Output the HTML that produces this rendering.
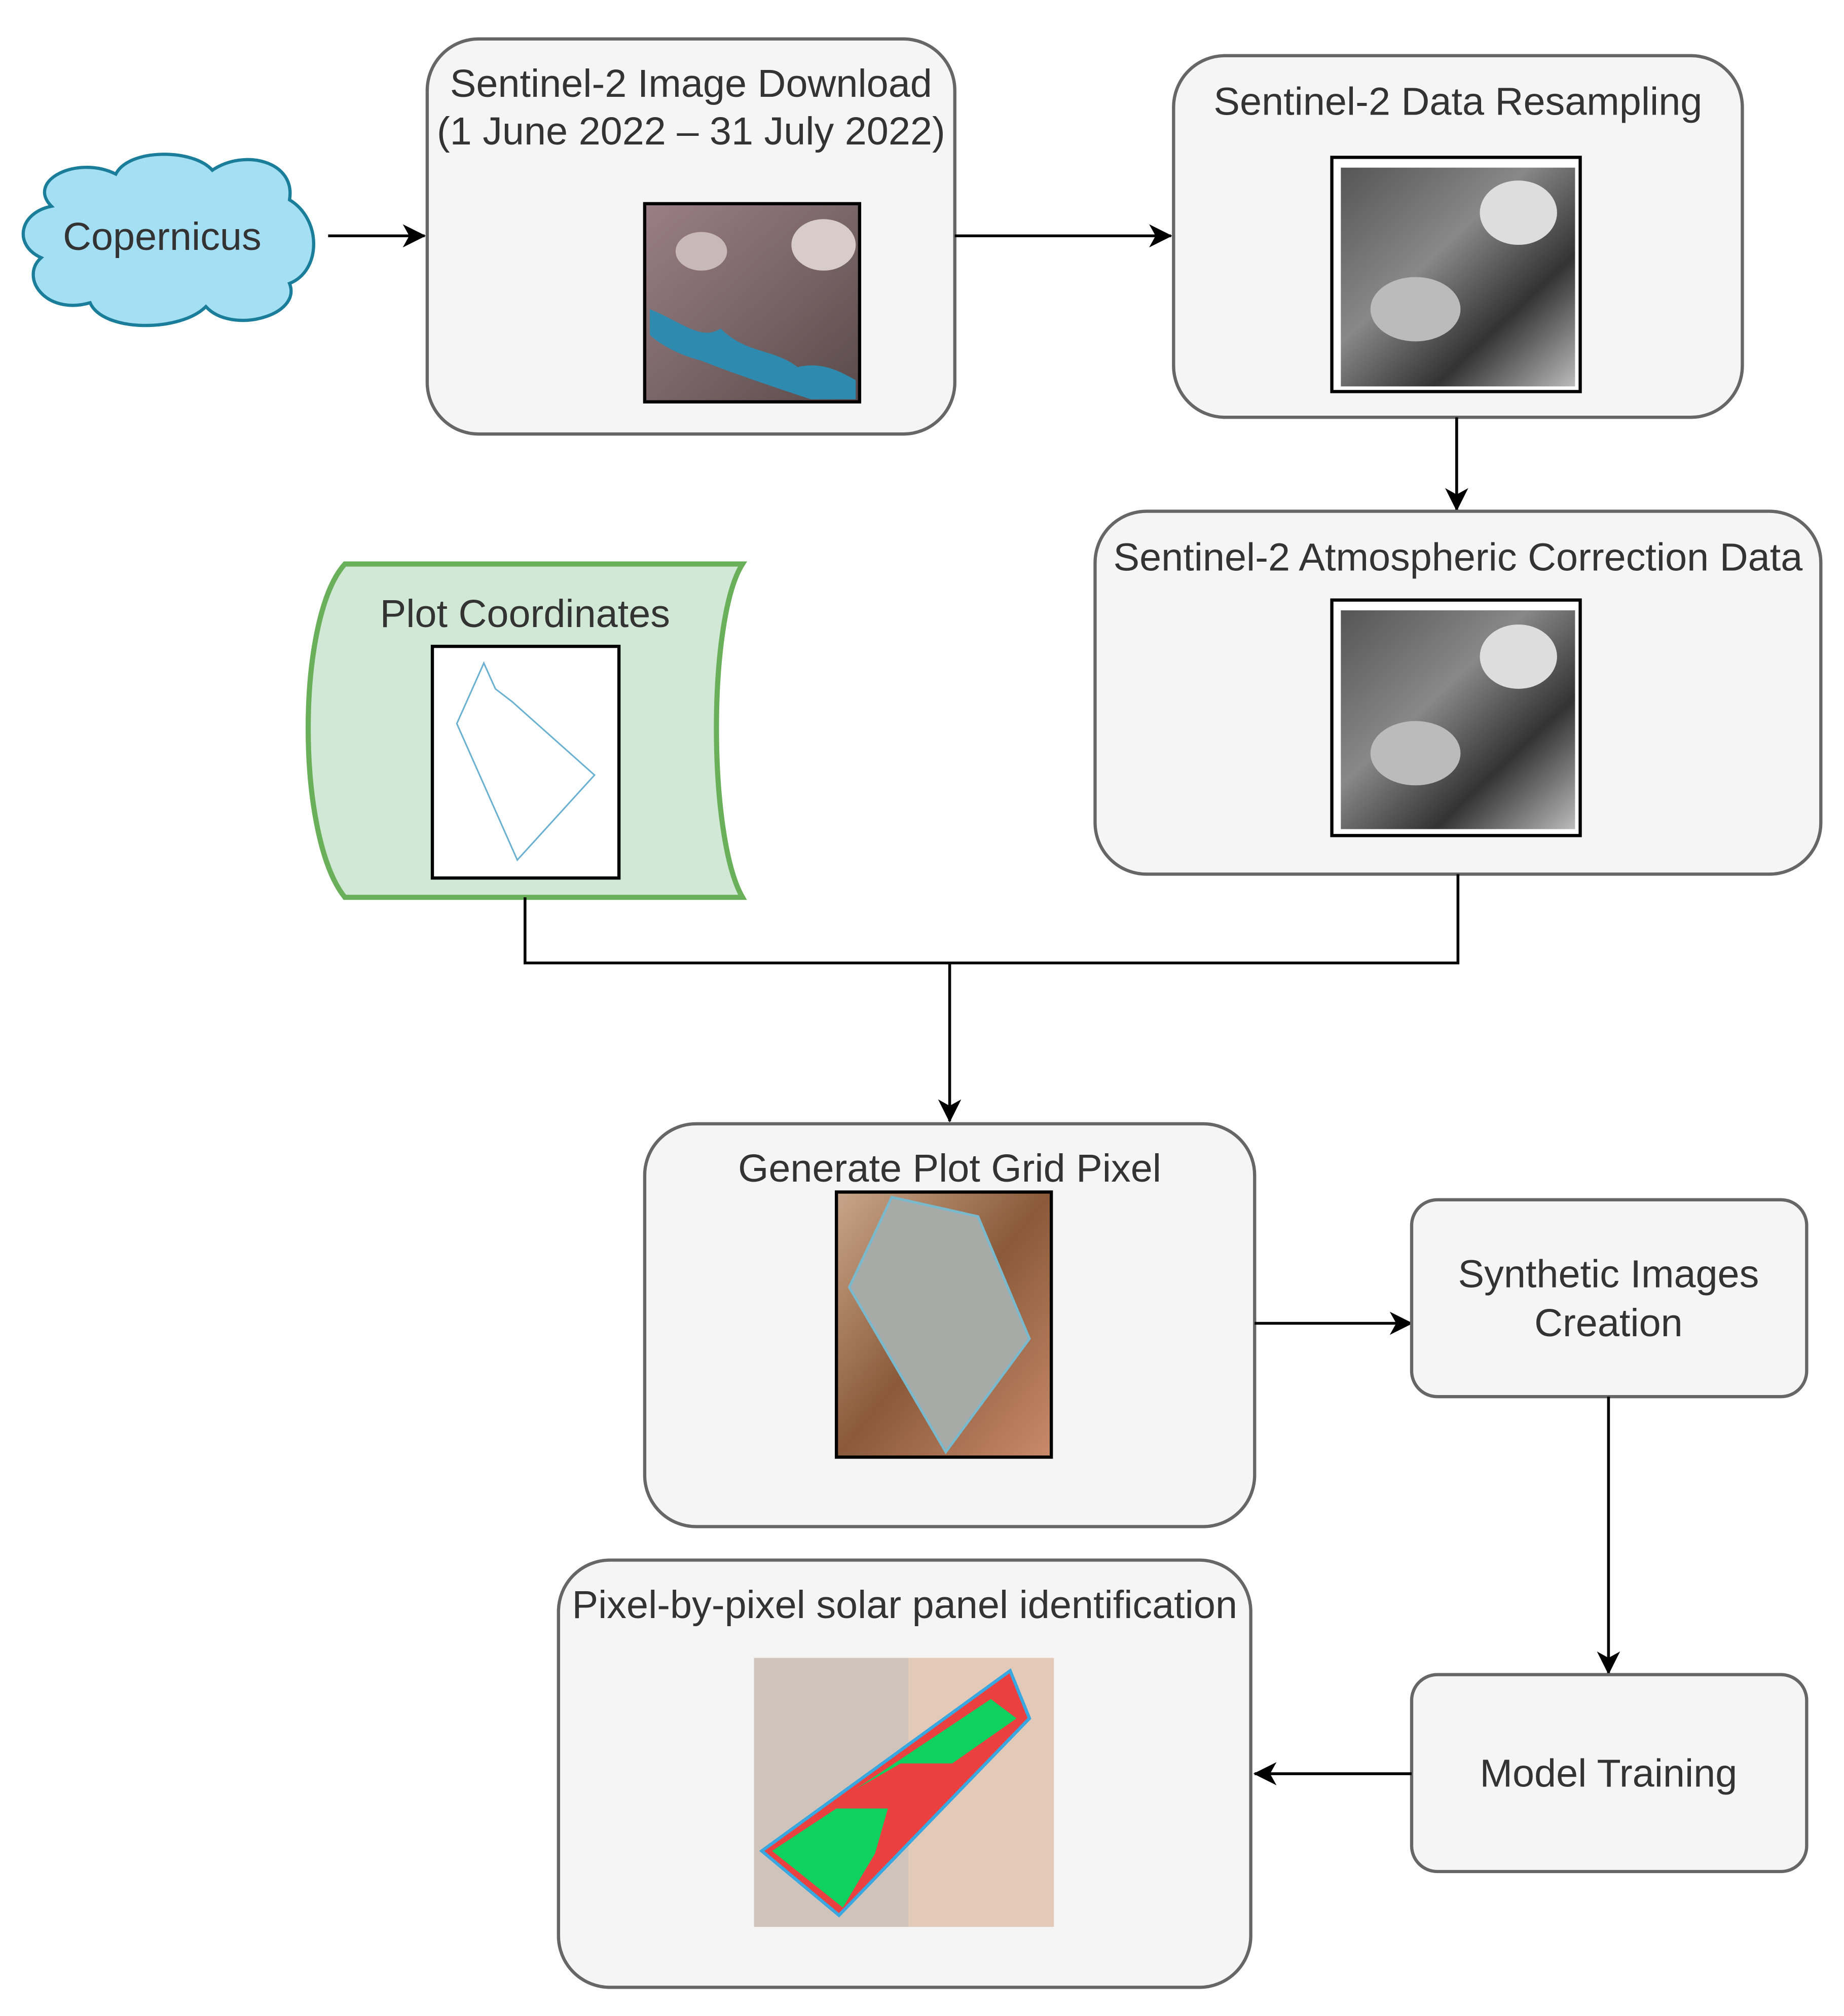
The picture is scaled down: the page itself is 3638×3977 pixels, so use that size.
<!DOCTYPE html>
<html><head><meta charset="utf-8"><style>
html,body{margin:0;padding:0;background:#fff;}
svg{display:block;}
text{font-family:"Liberation Sans",sans-serif;font-size:30.5px;fill:#333;text-anchor:middle;}
</style></head><body>
<svg width="3638" height="3977" viewBox="0 0 1433 1566" xmlns="http://www.w3.org/2000/svg">
<defs>
<marker id="ar" markerWidth="18" markerHeight="18" refX="17" refY="9" orient="auto" markerUnits="userSpaceOnUse" viewBox="0 0 18 18">
<path d="M0,0 L18,9 L0,18 L5,9 Z" fill="#000"/></marker>
<linearGradient id="gs" x1="0" y1="0" x2="1" y2="1"><stop offset="0" stop-color="#555"/><stop offset="0.4" stop-color="#888"/><stop offset="0.7" stop-color="#333"/><stop offset="1" stop-color="#bbb"/></linearGradient>
<linearGradient id="sat" x1="0" y1="0" x2="1" y2="1"><stop offset="0" stop-color="#9a7f86"/><stop offset="0.5" stop-color="#7a6668"/><stop offset="1" stop-color="#5a4a4a"/></linearGradient>
<linearGradient id="tan" x1="0" y1="0" x2="1" y2="1"><stop offset="0" stop-color="#c9a68a"/><stop offset="0.5" stop-color="#8a5a3a"/><stop offset="1" stop-color="#c98a6a"/></linearGradient>
</defs>

<path d="M40,160 C20,140 60,120 90,135 C100,115 150,115 165,132 C190,115 230,125 225,155 C250,170 250,210 225,220 C235,245 180,260 160,238 C140,258 80,258 70,235 C35,245 15,215 32,200 C10,190 15,165 40,160 Z" fill="#a5dff3" stroke="#1a7d9a" stroke-width="2.5"/>
<text x="126" y="194">Copernicus</text>
<line x1="255" y1="183" x2="330" y2="183" stroke="#000" stroke-width="2.2" marker-end="url(#ar)"/>

<rect x="332" y="30" width="410" height="307" rx="40" fill="#f5f5f5" stroke="#666" stroke-width="2.5"/>
<text x="537" y="75">Sentinel-2 Image Download</text>
<text x="537" y="112">(1 June 2022 – 31 July 2022)</text>
<rect x="501" y="158" width="167" height="154" fill="url(#sat)" stroke="#000" stroke-width="2.5"/>
<path d="M505,240 C530,250 545,265 560,255 C580,275 600,270 620,285 C640,280 655,290 665,295 L665,310 L630,310 C600,300 570,290 545,280 C525,275 510,265 505,260 Z" fill="#2f8ab0"/>
<ellipse cx="640" cy="190" rx="25" ry="20" fill="#d8ccc8"/>
<ellipse cx="545" cy="195" rx="20" ry="15" fill="#c8b8b8"/>

<line x1="742" y1="183" x2="910" y2="183" stroke="#000" stroke-width="2.2" marker-end="url(#ar)"/>

<rect x="912" y="43" width="442" height="281" rx="40" fill="#f5f5f5" stroke="#666" stroke-width="2.5"/>
<text x="1133" y="89">Sentinel-2 Data Resampling</text>
<rect x="1035" y="122" width="193" height="182" fill="#fff" stroke="#000" stroke-width="2.5"/>
<rect x="1042" y="130" width="182" height="170" fill="url(#gs)"/>
<ellipse cx="1180" cy="165" rx="30" ry="25" fill="#ddd"/>
<ellipse cx="1100" cy="240" rx="35" ry="25" fill="#bbb"/>

<line x1="1132" y1="324" x2="1132" y2="396" stroke="#000" stroke-width="2.2" marker-end="url(#ar)"/>

<rect x="851" y="397" width="564" height="282" rx="40" fill="#f5f5f5" stroke="#666" stroke-width="2.5"/>
<text x="1133" y="443">Sentinel-2 Atmospheric Correction Data</text>
<rect x="1035" y="466" width="193" height="183" fill="#fff" stroke="#000" stroke-width="2.5"/>
<rect x="1042" y="474" width="182" height="170" fill="url(#gs)"/>
<ellipse cx="1180" cy="510" rx="30" ry="25" fill="#ddd"/>
<ellipse cx="1100" cy="585" rx="35" ry="25" fill="#bbb"/>

<path d="M268,438 L577,438 C550,480 550,650 577,697 L268,697 C230,650 230,480 268,438 Z" fill="#d0e8d5" stroke="#6aaf5a" stroke-width="4"/>
<text x="408" y="487">Plot Coordinates</text>
<rect x="336" y="502" width="145" height="180" fill="#fff" stroke="#000" stroke-width="2.5"/>
<path d="M376,515 L385,535 L398,545 L462,602 L402,668 L355,562 Z" fill="none" stroke="#6ab0d0" stroke-width="1.2"/>

<polyline points="408,697 408,748 1133,748 1133,679" fill="none" stroke="#000" stroke-width="2.2"/>
<line x1="738" y1="748" x2="738" y2="871" stroke="#000" stroke-width="2.2" marker-end="url(#ar)"/>

<rect x="501" y="873" width="474" height="313" rx="40" fill="#f5f5f5" stroke="#666" stroke-width="2.5"/>
<text x="738" y="918">Generate Plot Grid Pixel</text>
<rect x="650" y="926" width="167" height="206" fill="url(#tan)" stroke="#000" stroke-width="2.5"/>
<path d="M693,930 L760,945 L800,1040 L735,1128 L660,1000 Z" fill="#a8aaa8" stroke="#7ab8cc" stroke-width="2"/>

<line x1="975" y1="1028" x2="1097" y2="1028" stroke="#000" stroke-width="2.2" marker-end="url(#ar)"/>

<rect x="1097" y="932" width="307" height="153" rx="20" fill="#f5f5f5" stroke="#666" stroke-width="2.5"/>
<text x="1250" y="1000">Synthetic Images</text>
<text x="1250" y="1038">Creation</text>

<line x1="1250" y1="1085" x2="1250" y2="1300" stroke="#000" stroke-width="2.2" marker-end="url(#ar)"/>

<rect x="1097" y="1301" width="307" height="153" rx="20" fill="#f5f5f5" stroke="#666" stroke-width="2.5"/>
<text x="1250" y="1388">Model Training</text>

<line x1="1097" y1="1378" x2="975" y2="1378" stroke="#000" stroke-width="2.2" marker-end="url(#ar)"/>

<rect x="434" y="1212" width="538" height="332" rx="40" fill="#f5f5f5" stroke="#666" stroke-width="2.5"/>
<text x="703" y="1257">Pixel-by-pixel solar panel identification</text>
<rect x="586" y="1288" width="233" height="209" fill="#e2c9b8"/>
<rect x="586" y="1288" width="120" height="209" fill="#cfc4bc"/>
<path d="M592,1438 L785,1298 L800,1335 L652,1488 Z" fill="#ea4040" stroke="#3aa8e0" stroke-width="2.5"/>
<path d="M600,1438 L650,1405 L690,1405 L680,1440 L655,1482 Z" fill="#10d060"/>
<path d="M665,1390 L770,1320 L790,1335 L740,1370 L700,1370 Z" fill="#10d060"/>
</svg>
</body></html>
